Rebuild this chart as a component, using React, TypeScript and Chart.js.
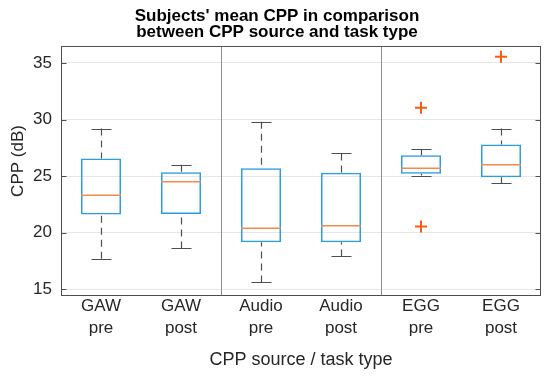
import React, { useEffect, useRef } from 'react';
import { Chart, registerables } from 'chart.js';

Chart.register(...registerables);

const sources = ['GAW', 'GAW', 'Audio', 'Audio', 'EGG', 'EGG'];
const tasks = ['pre', 'post', 'pre', 'post', 'pre', 'post'];
const whiskerLow = [17.7, 18.6, 15.6, 17.9, 25.05, 24.4];
const q1 = [21.6, 21.65, 19.15, 19.15, 25.2, 24.9];
const medians = [23.3, 24.5, 20.4, 20.6, 25.7, 26.0];
const q3 = [26.55, 25.35, 25.7, 25.3, 26.85, 27.8];
const whiskerHigh = [29.2, 26.0, 29.8, 27.0, 27.4, 29.2];
const outliersHigh = [null, null, null, null, 31.05, 35.55];
const outliersLow = [null, null, null, null, 20.55, null];
const yTicks = [15, 20, 25, 30, 35];
const groupSeparators = [1, 3];

const titleLines = ["Subjects' mean CPP in comparison", 'between CPP source and task type'];
const xTitle = 'CPP source / task type';
const yTitle = 'CPP (dB)';

const FONT = "'Liberation Sans', Arial, Helvetica, sans-serif";
const BOX_BLUE = '#2b9de0';
const MEDIAN_ORANGE = '#f48a4c';
const OUTLIER = '#ff5a14';
const AXIS = '#4f4f4f';

const boxPlugin = {
  id: 'boxExtras',
  beforeDatasetsDraw(chart: any) {
    const { ctx, chartArea: a, scales } = chart;
    const x = scales.x;
    const y = scales.y;
    ctx.save();
    ctx.strokeStyle = '#8f8f8f';
    ctx.lineWidth = 1;
    groupSeparators.forEach((i) => {
      const px = Math.round((x.getPixelForValue(i) + x.getPixelForValue(i + 1)) / 2) + 0.5;
      ctx.beginPath();
      ctx.moveTo(px, a.top);
      ctx.lineTo(px, a.bottom);
      ctx.stroke();
    });
    ctx.strokeStyle = AXIS;
    ctx.lineWidth = 1.2;
    for (let i = 0; i < sources.length; i++) {
      const cx = Math.round(x.getPixelForValue(i)) + 0.5;
      ctx.setLineDash([7, 5]);
      ctx.beginPath();
      ctx.moveTo(cx, y.getPixelForValue(whiskerHigh[i]));
      ctx.lineTo(cx, y.getPixelForValue(q3[i]));
      ctx.moveTo(cx, y.getPixelForValue(whiskerLow[i]));
      ctx.lineTo(cx, y.getPixelForValue(q1[i]));
      ctx.stroke();
      ctx.setLineDash([]);
      ctx.beginPath();
      const hy = Math.round(y.getPixelForValue(whiskerHigh[i])) + 0.5;
      const ly = Math.round(y.getPixelForValue(whiskerLow[i])) + 0.5;
      ctx.moveTo(cx - 10, hy);
      ctx.lineTo(cx + 10, hy);
      ctx.moveTo(cx - 10, ly);
      ctx.lineTo(cx + 10, ly);
      ctx.stroke();
    }
    ctx.restore();
  },
  afterDatasetsDraw(chart: any) {
    const { ctx, chartArea: a, scales } = chart;
    const x = scales.x;
    const y = scales.y;
    const meta = chart.getDatasetMeta(0);
    ctx.save();
    ctx.strokeStyle = MEDIAN_ORANGE;
    ctx.lineWidth = 1.5;
    for (let i = 0; i < sources.length; i++) {
      const bar: any = meta.data[i];
      const half = bar.width / 2;
      const cx = x.getPixelForValue(i);
      const my = y.getPixelForValue(medians[i]);
      ctx.beginPath();
      ctx.moveTo(cx - half, my);
      ctx.lineTo(cx + half, my);
      ctx.stroke();
    }
    ctx.strokeStyle = AXIS;
    ctx.lineWidth = 1;
    const L = Math.round(a.left) + 0.5;
    const R = Math.round(a.right) - 0.5;
    const T = Math.round(a.top) + 0.5;
    const B = Math.round(a.bottom) - 0.5;
    ctx.strokeRect(L, T, R - L, B - T);
    yTicks.forEach((v) => {
      const py = Math.round(y.getPixelForValue(v)) + 0.5;
      ctx.beginPath();
      ctx.moveTo(L, py);
      ctx.lineTo(L + 5, py);
      ctx.moveTo(R, py);
      ctx.lineTo(R - 5, py);
      ctx.stroke();
    });
    ctx.restore();
  },
  afterDraw(chart: any) {
    const { ctx } = chart;
    ctx.save();
    ctx.fillStyle = '#000';
    ctx.font = `bold 17px ${FONT}`;
    ctx.textAlign = 'center';
    ctx.textBaseline = 'middle';
    titleLines.forEach((t, i) => ctx.fillText(t, 277, 16 + i * 16.5));
    ctx.fillStyle = '#262626';
    ctx.font = `17px ${FONT}`;
    ctx.translate(18, 161);
    ctx.rotate(-Math.PI / 2);
    ctx.fillText(yTitle, 0, 0);
    ctx.restore();
  },
};

export default function App() {
  const canvasRef = useRef<HTMLCanvasElement | null>(null);

  useEffect(() => {
    const canvas = canvasRef.current;
    if (!canvas) return;
    const labels = sources.map((s, i) => [s, tasks[i]]);
    const chart = new Chart(canvas, {
      type: 'bar',
      data: {
        labels,
        datasets: [
          {
            type: 'bar',
            data: q1.map((v, i) => [v, q3[i]]) as any,
            backgroundColor: 'rgba(0,0,0,0)',
            borderColor: BOX_BLUE,
            borderWidth: 1.5,
            borderSkipped: false,
            barPercentage: 0.5,
            categoryPercentage: 1.0,
            order: 2,
          } as any,
          {
            type: 'line',
            data: outliersHigh as any,
            showLine: false,
            pointStyle: 'cross',
            pointRadius: 6,
            pointBorderWidth: 2,
            pointBorderColor: OUTLIER,
            borderColor: OUTLIER,
            order: 1,
          } as any,
          {
            type: 'line',
            data: outliersLow as any,
            showLine: false,
            pointStyle: 'cross',
            pointRadius: 6,
            pointBorderWidth: 2,
            pointBorderColor: OUTLIER,
            borderColor: OUTLIER,
            order: 1,
          } as any,
        ],
      },
      options: {
        animation: false,
        responsive: true,
        maintainAspectRatio: false,
        layout: { padding: { left: 0, right: 9, top: 46, bottom: 0 } },
        plugins: {
          legend: { display: false },
          tooltip: { enabled: false },
          title: { display: false },
        },
        scales: {
          x: {
            type: 'category',
            grid: { display: false, drawTicks: false },
            border: { display: false },
            ticks: {
              color: '#262626',
              font: { family: FONT, size: 17, lineHeight: 1.27 },
              padding: 0,
              maxRotation: 0,
              autoSkip: false,
            },
            title: {
              display: true,
              text: xTitle,
              color: '#262626',
              font: { family: FONT, size: 18, lineHeight: 1.2 },
              padding: { top: 0, bottom: 12.5 },
            },
            afterFit: (s: any) => {
              s.height = 87;
            },
          },
          y: {
            type: 'linear',
            min: 14.4,
            max: 36.5,
            afterBuildTicks: (s: any) => {
              s.ticks = yTicks.map((v) => ({ value: v }));
            },
            grid: { color: '#e6e6e6', drawTicks: false, lineWidth: 1 },
            border: { display: false },
            ticks: {
              color: '#262626',
              font: { family: FONT, size: 17 },
              padding: 9,
            },
            afterFit: (s: any) => {
              s.width = 61;
            },
          },
        },
      },
      plugins: [boxPlugin],
    });
    return () => chart.destroy();
  }, []);

  return (
    <div style={{ position: 'fixed', left: 0, top: 0, width: 550, height: 383, background: '#fff' }}>
      <canvas ref={canvasRef} />
    </div>
  );
}
